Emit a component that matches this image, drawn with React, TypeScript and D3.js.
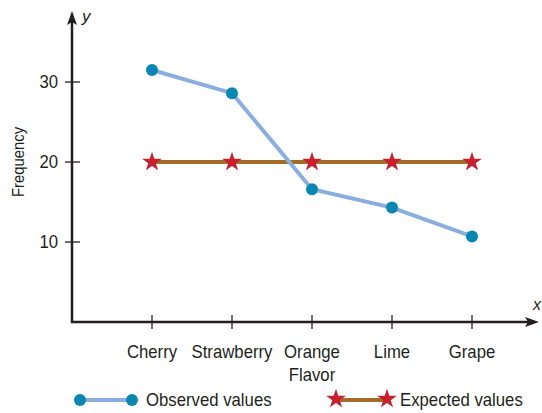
import React from "react";
import * as d3 from "d3";

const flavors = ["Cherry", "Strawberry", "Orange", "Lime", "Grape"];
const observed = [31.5, 28.6, 16.6, 14.3, 10.7];
const expected = [20, 20, 20, 20, 20];
const yTicks = [10, 20, 30];

const W = 542;
const H = 413;
const FONT = "'Liberation Sans Narrow', 'Arial Narrow', 'Liberation Sans', sans-serif";
const INK = "#231f20";
const OBS_LINE = "#8aaedf";
const OBS_DOT = "#0a86b3";
const EXP_LINE = "#a26b2a";
const EXP_STAR = "#c8202f";

const starPath = d3.symbol().type(d3.symbolStar).size(120)() as string;

// text squeezed a little horizontally, to look like the condensed face
const Narrow = ({ x, y, anchor = "start", size = 18, children }: any) => (
  <text
    transform={`translate(${x},${y}) scale(0.93,1)`}
    dy="0.35em"
    textAnchor={anchor}
    fontSize={size}
    fill={INK}
  >
    {children}
  </text>
);

export default function App() {
  const axisX = 72;
  const axisY = 322;
  const x = d3.scalePoint<string>().domain(flavors).range([152, 472]);
  const y = d3.scaleLinear().domain([0, 30]).range([axisY, 82]);

  const line = d3
    .line<number>()
    .x((_, i) => x(flavors[i])!)
    .y((d) => y(d));

  return (
    <svg
      width={W}
      height={H}
      style={{ position: "absolute", left: 0, top: 0, background: "#fff" }}
      fontFamily={FONT}
    >
      {/* axes */}
      <line x1={axisX} y1={axisY} x2={axisX} y2={22} stroke={INK} strokeWidth={2.5} />
      <path d={`M${axisX},11 L${axisX - 5},25 L${axisX},22 L${axisX + 5},25 Z`} fill={INK} />
      <line x1={axisX - 1.2} y1={axisY} x2={528} y2={axisY} stroke={INK} strokeWidth={2.5} />
      <path d={`M539,${axisY} L525,${axisY - 5} L528,${axisY} L525,${axisY + 5} Z`} fill={INK} />
      <text x={82} y={22} fontSize={17} fontStyle="italic" fill={INK}>y</text>
      <text x={533} y={310} fontSize={16} fontStyle="italic" fill={INK}>x</text>

      {yTicks.map((t) => (
        <g key={t}>
          <line x1={axisX - 7} x2={axisX + 8} y1={y(t)} y2={y(t)} stroke={INK} strokeWidth={1.3} />
          <Narrow x={58} y={y(t)} anchor="end">{t}</Narrow>
        </g>
      ))}
      <text
        transform="translate(24,162) rotate(-90) scale(0.93,1)"
        textAnchor="middle"
        fontSize={16}
        fill={INK}
      >
        Frequency
      </text>

      {flavors.map((f) => (
        <g key={f}>
          <line x1={x(f)} x2={x(f)} y1={axisY - 7} y2={axisY + 7} stroke={INK} strokeWidth={1.3} />
          <Narrow x={x(f)} y={352} anchor="middle">{f}</Narrow>
        </g>
      ))}
      <Narrow x={x("Orange")} y={375} anchor="middle">Flavor</Narrow>

      {/* expected */}
      <path d={line(expected)!} fill="none" stroke={EXP_LINE} strokeWidth={4} />
      {expected.map((v, i) => (
        <path key={i} d={starPath} transform={`translate(${x(flavors[i])},${y(v)})`} fill={EXP_STAR} />
      ))}

      {/* observed */}
      <path d={line(observed)!} fill="none" stroke={OBS_LINE} strokeWidth={4} />
      {observed.map((v, i) => (
        <circle key={i} cx={x(flavors[i])} cy={y(v)} r={6} fill={OBS_DOT} />
      ))}

      {/* legend */}
      <line x1={80} x2={132} y1={400} y2={400} stroke={OBS_LINE} strokeWidth={4} />
      <circle cx={80} cy={400} r={6} fill={OBS_DOT} />
      <circle cx={132} cy={400} r={6} fill={OBS_DOT} />
      <Narrow x={146} y={400}>Observed values</Narrow>

      <line x1={336} x2={387} y1={400} y2={400} stroke={EXP_LINE} strokeWidth={4} />
      <path d={starPath} transform="translate(336,399)" fill={EXP_STAR} />
      <path d={starPath} transform="translate(387,399)" fill={EXP_STAR} />
      <Narrow x={400} y={400}>Expected values</Narrow>
    </svg>
  );
}
